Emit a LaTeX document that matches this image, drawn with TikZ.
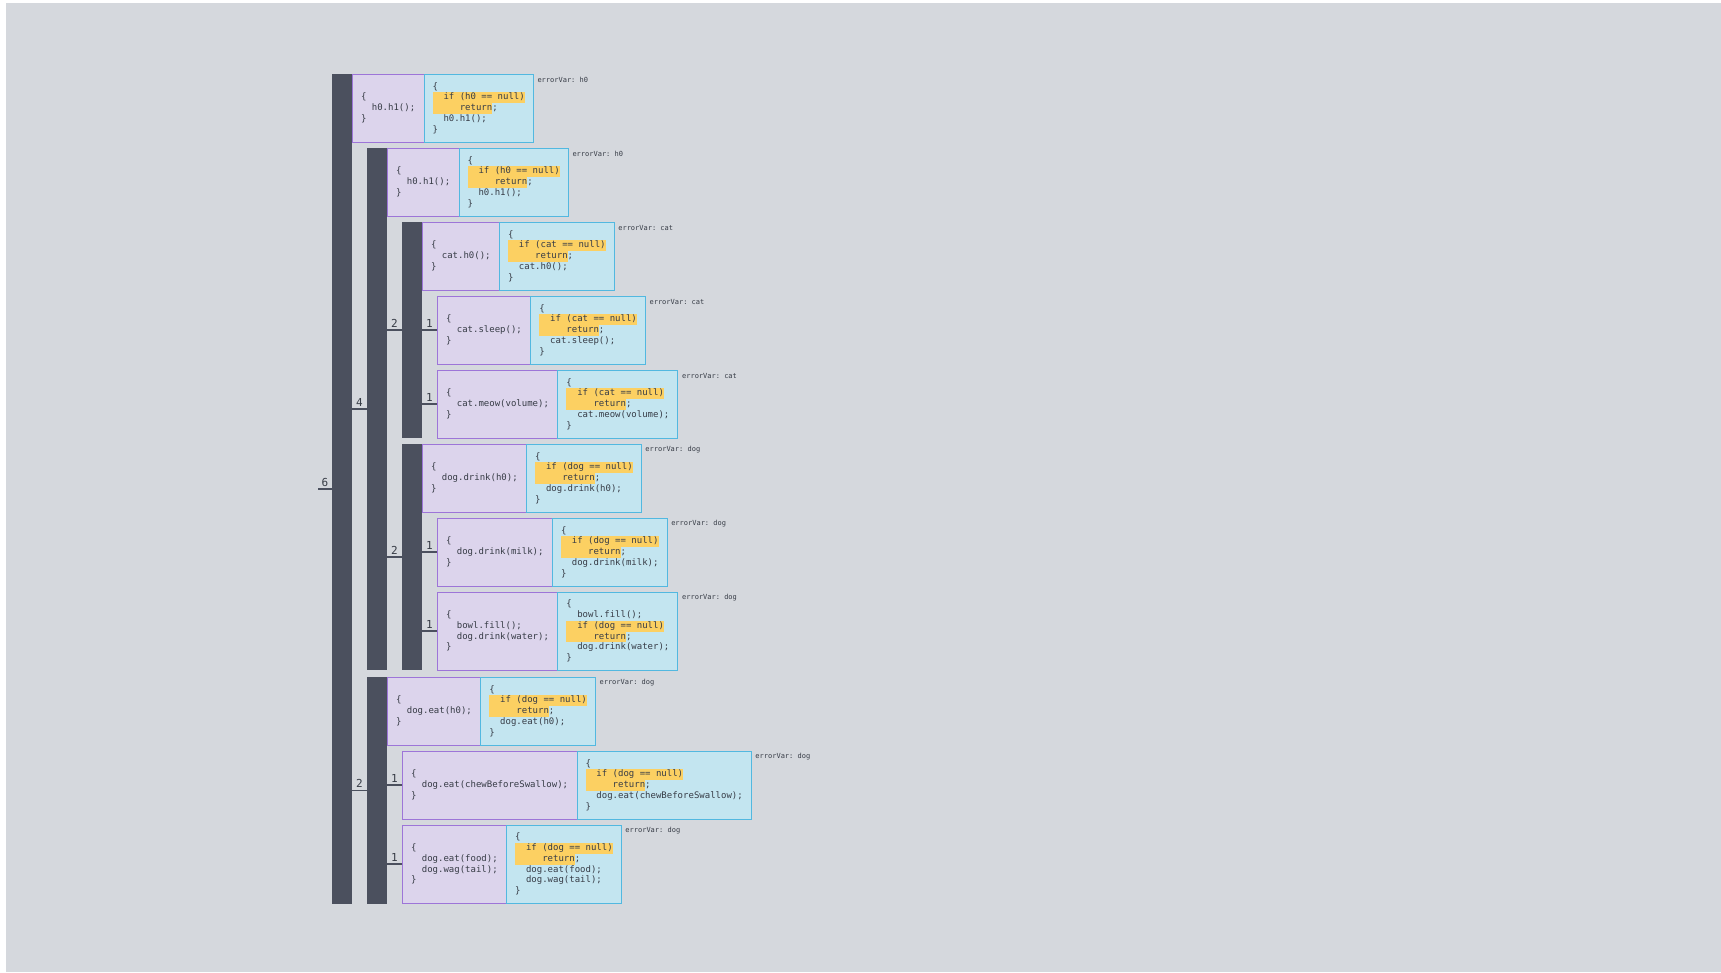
\documentclass[tikz,border=0pt]{standalone}
\usepackage{fontspec}
\setmonofont{DejaVu Sans Mono}
\usepackage{xcolor}
\usetikzlibrary{positioning}
\definecolor{canvasgrey}{RGB}{213,216,221}
\definecolor{bardark}{RGB}{75,80,94}
\definecolor{blockfill}{RGB}{220,212,236}
\definecolor{blockline}{RGB}{157,117,216}
\definecolor{guardfill}{RGB}{195,229,240}
\definecolor{guardline}{RGB}{82,184,224}
\definecolor{hlyellow}{RGB}{252,208,98}
\definecolor{codegrey}{RGB}{55,60,70}
\newcommand{\hlcode}[1]{{\setlength{\fboxsep}{0pt}\colorbox{hlyellow}{\strut#1}}}

\begin{document}
\begin{tikzpicture}[x=1pt, y=-1pt,
    bar/.style={rectangle, fill=bardark, minimum width=20pt, inner sep=0pt, outer sep=0pt, anchor=north west},
    orig/.style={rectangle, draw=blockline, line width=1pt, fill=blockfill, align=left, text=codegrey,
                 font=\ttfamily\fontsize{9}{10.8}\selectfont, inner xsep=9pt, inner ysep=4pt, outer sep=0pt,
                 minimum height=68pt, anchor=north west},
    guard/.style={orig, draw=guardline, fill=guardfill, inner xsep=8.5pt},
    tall/.style={minimum height=78pt},
    errvar/.style={font=\ttfamily\fontsize{7}{8}\selectfont, text=codegrey, anchor=west, inner sep=0pt},
    tick/.style={draw=bardark, line width=1.6pt},
    count/.style={font=\ttfamily\fontsize{11}{12}\selectfont, text=codegrey, above, inner sep=2pt}
]
    \fill[white] (0,0) rectangle (1721,972);
    \fill[canvasgrey] (6,3) rectangle (1721,972);

    % grouping bars
    \node[bar, minimum height=830pt] (b6) at (332,74) {};
    \node[bar, minimum height=522pt] (b4) at (367,148) {};
    \node[bar, minimum height=216pt] (b2cat) at (402,222) {};
    \node[bar, minimum height=226pt] (b2dog) at (402,444) {};
    \node[bar, minimum height=227pt] (b2eat) at (367,677) {};

    \coordinate (t6) at ([xshift=-14pt]b6.west);
    \draw[tick] (t6) -- (b6.west) node[count, midway] {6};
    \draw[tick] (b6.east |- b4.west) -- (b4.west) node[count, midway] {4};
    \draw[tick] (b4.east |- b2cat.west) -- (b2cat.west) node[count, midway] {2};
    \draw[tick] (b4.east |- b2dog.west) -- (b2dog.west) node[count, midway] {2};
    \draw[tick] (b6.east |- b2eat.west) -- (b2eat.west) node[count, midway] {2};

    % h0
    \node[orig] (o1) at (352,74) {\{\\~~h0.h1();\\\}};
    \node[guard, right=0pt of o1] (g1) {\{\\\hlcode{~~if (h0 == null)}\\\hlcode{~~~~~return};\\~~h0.h1();\\\}};
    \node[errvar] (e1) at ([xshift=4pt,yshift=-6pt]g1.north east) {errorVar: h0};

    \node[orig] (o2) at (387,148) {\{\\~~h0.h1();\\\}};
    \node[guard, right=0pt of o2] (g2) {\{\\\hlcode{~~if (h0 == null)}\\\hlcode{~~~~~return};\\~~h0.h1();\\\}};
    \node[errvar] (e2) at ([xshift=4pt,yshift=-6pt]g2.north east) {errorVar: h0};

    % cat
    \node[orig] (o3) at (422,222) {\{\\~~cat.h0();\\\}};
    \node[guard, right=0pt of o3] (g3) {\{\\\hlcode{~~if (cat == null)}\\\hlcode{~~~~~return};\\~~cat.h0();\\\}};
    \node[errvar] (e3) at ([xshift=4pt,yshift=-6pt]g3.north east) {errorVar: cat};

    \node[orig] (o4) at (437,296) {\{\\~~cat.sleep();\\\}};
    \node[guard, right=0pt of o4] (g4) {\{\\\hlcode{~~if (cat == null)}\\\hlcode{~~~~~return};\\~~cat.sleep();\\\}};
    \node[errvar] (e4) at ([xshift=4pt,yshift=-6pt]g4.north east) {errorVar: cat};
    \draw[tick] (b2cat.east |- o4.west) -- (o4.west) node[count, midway] {1};

    \node[orig] (o5) at (437,370) {\{\\~~cat.meow(volume);\\\}};
    \node[guard, right=0pt of o5] (g5) {\{\\\hlcode{~~if (cat == null)}\\\hlcode{~~~~~return};\\~~cat.meow(volume);\\\}};
    \node[errvar] (e5) at ([xshift=4pt,yshift=-6pt]g5.north east) {errorVar: cat};
    \draw[tick] (b2cat.east |- o5.west) -- (o5.west) node[count, midway] {1};

    % dog drinks
    \node[orig] (o6) at (422,444) {\{\\~~dog.drink(h0);\\\}};
    \node[guard, right=0pt of o6] (g6) {\{\\\hlcode{~~if (dog == null)}\\\hlcode{~~~~~return};\\~~dog.drink(h0);\\\}};
    \node[errvar] (e6) at ([xshift=4pt,yshift=-6pt]g6.north east) {errorVar: dog};

    \node[orig] (o7) at (437,518) {\{\\~~dog.drink(milk);\\\}};
    \node[guard, right=0pt of o7] (g7) {\{\\\hlcode{~~if (dog == null)}\\\hlcode{~~~~~return};\\~~dog.drink(milk);\\\}};
    \node[errvar] (e7) at ([xshift=4pt,yshift=-6pt]g7.north east) {errorVar: dog};
    \draw[tick] (b2dog.east |- o7.west) -- (o7.west) node[count, midway] {1};

    \node[orig, tall] (o8) at (437,592) {\{\\~~bowl.fill();\\~~dog.drink(water);\\\}};
    \node[guard, tall, right=0pt of o8] (g8) {\{\\~~bowl.fill();\\\hlcode{~~if (dog == null)}\\\hlcode{~~~~~return};\\~~dog.drink(water);\\\}};
    \node[errvar] (e8) at ([xshift=4pt,yshift=-6pt]g8.north east) {errorVar: dog};
    \draw[tick] (b2dog.east |- o8.west) -- (o8.west) node[count, midway] {1};

    % dog eats
    \node[orig] (o9) at (387,677) {\{\\~~dog.eat(h0);\\\}};
    \node[guard, right=0pt of o9] (g9) {\{\\\hlcode{~~if (dog == null)}\\\hlcode{~~~~~return};\\~~dog.eat(h0);\\\}};
    \node[errvar] (e9) at ([xshift=4pt,yshift=-6pt]g9.north east) {errorVar: dog};

    \node[orig] (o10) at (402,751) {\{\\~~dog.eat(chewBeforeSwallow);\\\}};
    \node[guard, right=0pt of o10] (g10) {\{\\\hlcode{~~if (dog == null)}\\\hlcode{~~~~~return};\\~~dog.eat(chewBeforeSwallow);\\\}};
    \node[errvar] (e10) at ([xshift=4pt,yshift=-6pt]g10.north east) {errorVar: dog};
    \draw[tick] (b2eat.east |- o10.west) -- (o10.west) node[count, midway] {1};

    \node[orig, tall] (o11) at (402,825) {\{\\~~dog.eat(food);\\~~dog.wag(tail);\\\}};
    \node[guard, tall, right=0pt of o11] (g11) {\{\\\hlcode{~~if (dog == null)}\\\hlcode{~~~~~return};\\~~dog.eat(food);\\~~dog.wag(tail);\\\}};
    \node[errvar] (e11) at ([xshift=4pt,yshift=-6pt]g11.north east) {errorVar: dog};
    \draw[tick] (b2eat.east |- o11.west) -- (o11.west) node[count, midway] {1};
\end{tikzpicture}
\end{document}
